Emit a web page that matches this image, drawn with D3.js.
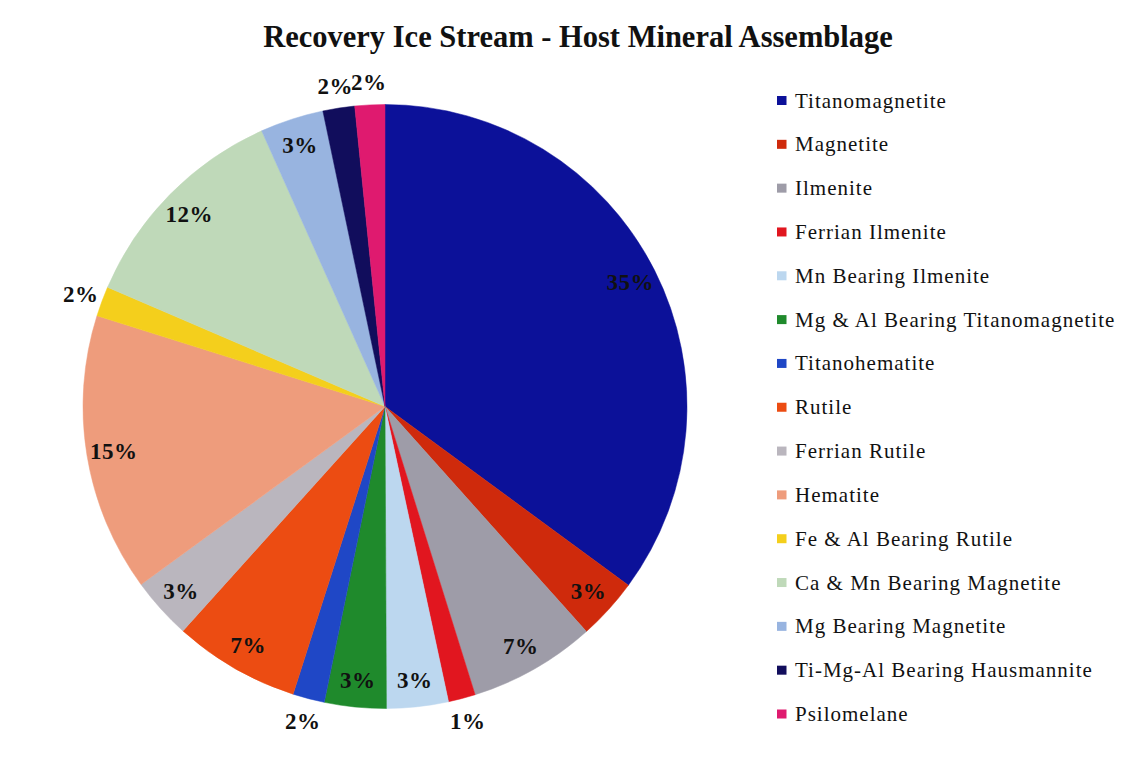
<!DOCTYPE html>
<html>
<head>
<meta charset="utf-8">
<script src="https://cdn.jsdelivr.net/npm/d3@7"></script>
<style>
  html, body { margin: 0; padding: 0; background: #ffffff; }
  svg { display: block; }
</style>
</head>
<body>
<svg id="chart" width="1146" height="767"></svg>
<script>
// Host mineral assemblage, Recovery Ice Stream (share of grains, %)
const minerals = [
  "Titanomagnetite",
  "Magnetite",
  "Ilmenite",
  "Ferrian Ilmenite",
  "Mn Bearing Ilmenite",
  "Mg & Al Bearing Titanomagnetite",
  "Titanohematite",
  "Rutile",
  "Ferrian Rutile",
  "Hematite",
  "Fe & Al Bearing Rutile",
  "Ca & Mn Bearing Magnetite",
  "Mg Bearing Magnetite",
  "Ti-Mg-Al Bearing Hausmannite",
  "Psilomelane"
];
const shares = [35.1, 3.3, 6.8, 1.45, 3.3, 3.3, 1.7, 6.75, 3.3, 14.9, 1.6, 11.85, 3.4, 1.7, 1.6];
const sliceColors = [
  "#0c1199", "#cf2a0c", "#9e9ca8", "#e1161f", "#bcd7ef",
  "#1f8a2c", "#1f47c6", "#ec4c12", "#bab6be", "#ee9c7c",
  "#f4cf1c", "#bfd9b9", "#98b4e0", "#110d5c", "#df1a6f"
];
const chartTitle = "Recovery Ice Stream - Host Mineral Assemblage";

const svg = d3.select("#chart");
const W = 1146, H = 767;
const cx = 385, cy = 406.5, R = 302;
const serif = "'Liberation Serif', 'Times New Roman', serif";

svg.append("rect").attr("width", W).attr("height", H).attr("fill", "#ffffff");

// Title
svg.append("text")
  .attr("x", 578).attr("y", 47)
  .attr("text-anchor", "middle")
  .attr("font-family", serif)
  .attr("font-weight", "bold")
  .attr("font-size", 30.5)
  .attr("fill", "#111")
  .text(chartTitle);

const total = d3.sum(shares);
const rows = minerals.map((name, i) => ({ name, value: shares[i], color: sliceColors[i] }));

const pie = d3.pie().value(d => d.value).sort(null);
const arcs = pie(rows);
const arc = d3.arc().innerRadius(0).outerRadius(R);
const labelInside = d3.arc().innerRadius(R * 0.91).outerRadius(R * 0.91);
const labelOutside = d3.arc().innerRadius(R * 1.075).outerRadius(R * 1.075);

const g = svg.append("g").attr("transform", `translate(${cx},${cy})`);

g.selectAll("path.slice")
  .data(arcs)
  .join("path")
  .attr("class", "slice")
  .attr("d", arc)
  .attr("fill", d => d.data.color)
  .attr("stroke", d => d.data.color)
  .attr("stroke-width", 0.5);

// Percentage labels: narrow slices get their label just outside the rim
g.selectAll("text.pct")
  .data(arcs)
  .join("text")
  .attr("class", "pct")
  .attr("transform", d => {
    const small = (d.endAngle - d.startAngle) < 0.16;
    const [x, y] = (small ? labelOutside : labelInside).centroid(d);
    return `translate(${x},${y})`;
  })
  .attr("text-anchor", "middle")
  .attr("dy", "0.35em")
  .attr("font-family", serif)
  .attr("font-weight", "bold")
  .attr("font-size", 23)
  .attr("letter-spacing", 0.5)
  .attr("fill", "#111")
  .text(d => Math.round(d.data.value / total * 100) + "%");

// Legend
const legendY = d3.scalePoint().domain(minerals).range([100.5, 714]);
const legend = svg.append("g");
const item = legend.selectAll("g.item")
  .data(rows)
  .join("g")
  .attr("class", "item")
  .attr("transform", d => `translate(777,${legendY(d.name)})`);

item.append("rect")
  .attr("x", 0).attr("y", -4.5)
  .attr("width", 9.5).attr("height", 9)
  .attr("fill", d => d.color);

item.append("text")
  .attr("x", 18).attr("y", 7)
  .attr("font-family", serif)
  .attr("font-size", 21)
  .attr("letter-spacing", 1)
  .attr("fill", "#111")
  .text(d => d.name);
</script>
</body>
</html>
